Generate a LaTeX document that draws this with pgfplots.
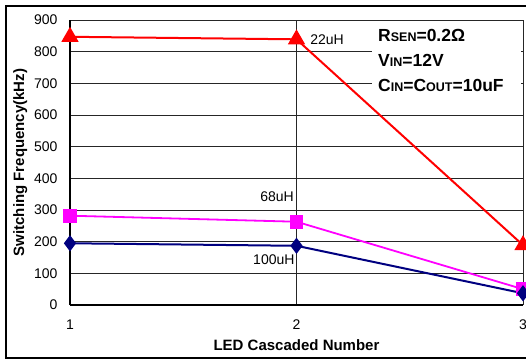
\documentclass[border=0pt]{standalone}
\usepackage{pgfplots}
\pgfplotsset{compat=1.18}
\usepackage{fontspec}
\setmainfont{Liberation Sans}
\definecolor{navyc}{RGB}{0,0,128}
\definecolor{magc}{RGB}{255,0,255}
\definecolor{redc}{RGB}{255,0,0}
\begin{document}
\begin{tikzpicture}[x=1pt,y=1pt]
\useasboundingbox (0,0) rectangle (526,360);
\draw[line width=2pt] (540,354) -- (6,354) -- (6,2) -- (540,2);
\begin{axis}[
  at={(70pt,55pt)}, anchor=south west,
  scale only axis, width=453pt, height=285pt,
  xmin=1, xmax=3, ymin=0, ymax=900,
  xtick={1,2,3}, ytick={0,100,...,900},
  axis x line*=bottom, axis y line*=left,
  axis line style={black, line width=1.2pt, -},
  grid=major, major grid style={black!85, line width=0.8pt},
  major tick length=0pt,
  clip=false,
  /pgf/number format/assume math mode=true,
  ticklabel style={font=\fontsize{14}{16}\selectfont},
  yticklabel style={xshift=-9pt},
  xticklabel style={yshift=-11pt},
  xlabel={LED Cascaded Number},
  ylabel={Switching Frequency(kHz)},
  label style={font=\fontsize{15}{17}\selectfont\bfseries},
  xlabel style={at={(axis description cs:0.5,-0.14)}, anchor=center},
  ylabel style={at={(axis description cs:-0.11,0.5)}, anchor=center},
]
\fill[white] (axis cs:2.332,888) rectangle (axis cs:2.99,630);
\addplot[redc, line width=2pt, mark=triangle*, mark size=8pt, mark options={solid}] coordinates {(1,847) (2,839) (3,189)};
\addplot[magc, line width=1.8pt, mark=square*, mark size=6pt] coordinates {(1,282) (2,263) (3,50)};
\addplot[navyc, line width=2pt, mark=diamond*, mark size=6.5pt] coordinates {(1,195) (2,187) (3,37)};
\node[font=\fontsize{14}{16}\selectfont, anchor=center] at (axis cs:2.135,837) {22uH};
\node[font=\fontsize{14}{16}\selectfont, anchor=center] at (axis cs:1.914,342) {68uH};
\node[font=\fontsize{14}{16}\selectfont, anchor=center] at (axis cs:1.90,142) {100uH};
\end{axis}
\begin{scope}[font=\fontsize{17.5}{20}\selectfont\bfseries]
\node[anchor=base west, inner sep=0pt] at (378,318.3) {R{\fontsize{12.5}{14}\selectfont SEN}=0.2Ω};
\node[anchor=base west, inner sep=0pt] at (378,293.3) {V{\fontsize{12.5}{14}\selectfont IN}=12V};
\node[anchor=base west, inner sep=0pt] at (378,268.3) {C{\fontsize{12.5}{14}\selectfont IN}=C{\fontsize{12.5}{14}\selectfont OUT}=10uF};
\end{scope}
\end{tikzpicture}
\end{document}
